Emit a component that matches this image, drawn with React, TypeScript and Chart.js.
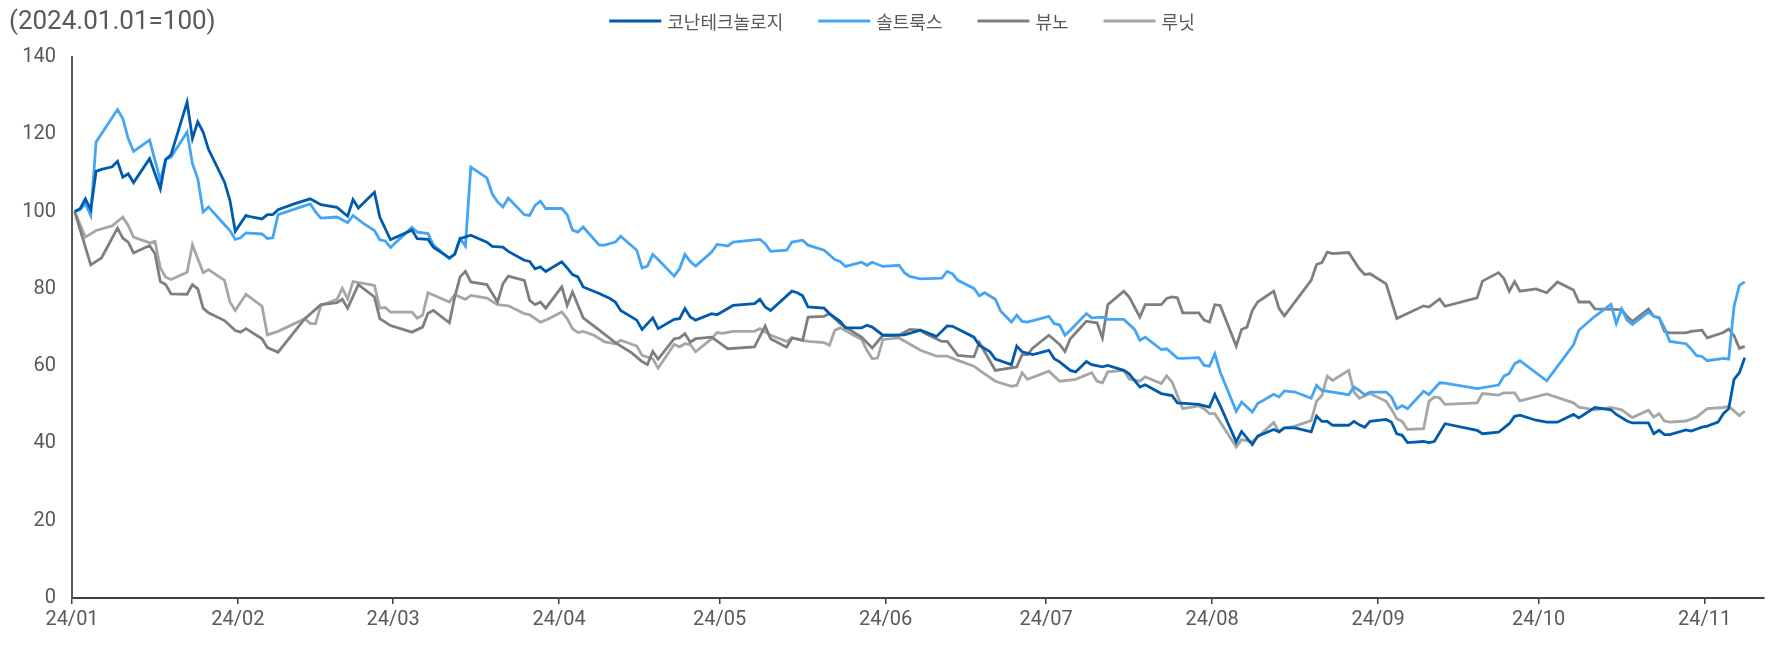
import React, { useEffect, useRef } from 'react';
import { Chart, registerables } from 'chart.js';

Chart.register(...registerables);

const W = 1784;
const H = 656;

const Y_TITLE = '(2024.01.01=100)';
const SERIES_NAMES = ['코난테크놀로지', '솔트룩스', '뷰노', '루닛'];
const SERIES_COLORS = ['#005BAC', '#45A5F5', '#7F7F7F', '#A6A6A6'];
const TEXT_COLOR = '#595959';

// x axis: days since 2024-01-01
const MONTH_TICKS = [0, 31, 60, 91, 121, 152, 182, 213, 244, 274, 305];
const MONTH_LABELS = ['24/01', '24/02', '24/03', '24/04', '24/05', '24/06', '24/07', '24/08', '24/09', '24/10', '24/11'];
const X_MAX = 316;
const Y_MIN = 0;
const Y_MAX = 140;
const Y_STEP = 20;

// 코난테크놀로지
const konanDays = [
  0, 1, 2, 3, 4, 5, 7, 8, 9, 10,
  11, 14, 16, 17, 18, 21, 22, 23, 24, 25,
  28, 29, 30, 32, 33, 35, 36, 37, 38, 41,
  44, 46, 49, 51, 52, 53, 56, 57, 59, 63,
  64, 66, 67, 70, 71, 72, 74, 77, 78, 80,
  81, 84, 85, 86, 87, 88, 91, 92, 93, 94,
  95, 98, 100, 101, 102, 105, 106, 108, 109, 112,
  113, 114, 115, 116, 119, 120, 123, 127, 128, 129,
  130, 134, 135, 136, 137, 140, 141, 143, 144, 147,
  148, 149, 151, 152, 155, 158, 161, 163, 164, 168,
  169, 171, 172, 175, 176, 177, 179, 182, 183, 184,
  186, 187, 189, 190, 192, 193, 196, 197, 199, 200,
  203, 205, 206, 210, 212, 213, 214, 217, 218, 220,
  221, 224, 225, 226, 228, 231, 232, 233, 234, 235,
  238, 239, 240, 241, 242, 245, 246, 247, 248, 249,
  252, 253, 254, 256, 262, 263, 266, 268, 269, 270,
  273, 275, 277, 280, 281, 284, 287, 288, 290, 291,
  294, 295, 296, 297, 298, 301, 302, 304, 305, 307,
  308, 309, 310, 311, 312,
];
const konanValues = [
  100, 100.7, 103.3, 100.5, 110.4, 110.9, 111.6, 113.0, 108.9, 109.8,
  107.5, 113.7, 105.9, 113.5, 114.7, 128.3, 118.9, 123.2, 120.6, 116.1,
  107.6, 102.9, 94.9, 99.0, 98.6, 98.1, 99.2, 99.2, 100.5, 102.0,
  103.3, 101.8, 101.1, 98.8, 103.1, 100.9, 105.0, 98.6, 92.7, 95.2,
  93.0, 92.8, 90.8, 88.0, 88.9, 93.0, 93.9, 92.1, 91.0, 90.8,
  89.7, 87.4, 87.1, 85.2, 85.7, 84.5, 87.0, 85.4, 83.7, 83.1,
  80.5, 78.8, 77.5, 76.6, 74.4, 71.9, 69.5, 72.5, 69.7, 72.1,
  72.3, 74.9, 72.7, 71.9, 73.6, 73.3, 75.7, 76.2, 77.3, 75.3,
  74.4, 79.4, 79.0, 78.2, 75.3, 75.0, 73.6, 71.6, 69.9, 69.9,
  70.6, 70.1, 68.0, 68.0, 68.1, 69.3, 67.7, 70.4, 70.3, 67.5,
  65.4, 63.7, 61.8, 60.4, 65.2, 63.7, 63.0, 64.1, 61.9, 61.1,
  58.9, 58.5, 61.2, 60.4, 59.8, 60.2, 58.9, 58.0, 54.6, 55.2,
  52.9, 52.4, 50.5, 50.1, 49.4, 52.7, 49.8, 40.4, 43.1, 39.7,
  41.9, 43.6, 43.0, 44.0, 44.0, 43.0, 47.1, 45.7, 45.7, 44.7,
  44.7, 45.7, 44.8, 44.2, 45.7, 46.2, 45.5, 42.5, 42.1, 40.2,
  40.5, 40.2, 40.5, 45.1, 43.4, 42.5, 42.9, 45.1, 47.0, 47.3,
  46.0, 45.5, 45.5, 47.5, 46.6, 49.3, 48.7, 47.5, 45.8, 45.3,
  45.3, 42.5, 43.4, 42.3, 42.3, 43.5, 43.2, 44.2, 44.5, 45.5,
  47.7, 49.0, 56.6, 58.3, 62.2,
];

// 솔트룩스
const saltluxDays = [
  0, 1, 2, 3, 4, 8, 9, 10, 11, 14,
  16, 17, 18, 21, 22, 23, 24, 25, 28, 29,
  30, 31, 32, 35, 36, 37, 38, 44, 45, 46,
  49, 51, 52, 54, 56, 57, 58, 59, 63, 64,
  66, 67, 70, 71, 72, 73, 74, 77, 78, 79,
  80, 81, 84, 85, 86, 87, 88, 91, 92, 93,
  94, 95, 98, 99, 101, 102, 105, 106, 107, 108,
  109, 112, 113, 114, 115, 116, 119, 120, 121, 122,
  123, 128, 129, 130, 133, 134, 136, 137, 140, 142,
  143, 144, 147, 148, 149, 151, 154, 155, 156, 158,
  162, 163, 164, 165, 168, 169, 170, 172, 173, 175,
  176, 177, 178, 182, 183, 184, 185, 186, 189, 190,
  192, 193, 196, 198, 199, 200, 203, 204, 206, 207,
  210, 211, 212, 213, 214, 217, 218, 220, 221, 224,
  225, 226, 228, 231, 232, 233, 238, 239, 240, 241,
  242, 245, 246, 247, 248, 249, 252, 253, 255, 256,
  262, 266, 267, 268, 269, 270, 275, 280, 281, 284,
  287, 288, 289, 290, 291, 294, 295, 296, 297, 298,
  301, 302, 303, 304, 305, 308, 309, 310, 311, 312,
];
const saltluxValues = [
  100, 100.5, 102.0, 99.0, 118.0, 126.4, 124.0, 118.9, 115.6, 118.5,
  108.1, 113.5, 114.1, 120.6, 112.4, 108.5, 99.9, 101.2, 96.6, 95.1,
  92.8, 93.2, 94.5, 94.2, 93.0, 93.2, 99.2, 102.0, 99.9, 98.3,
  98.6, 97.1, 99.0, 96.9, 95.1, 92.7, 92.4, 90.7, 95.9, 94.7,
  94.3, 91.4, 87.8, 89.1, 93.0, 91.1, 111.5, 108.7, 104.6, 102.5,
  101.2, 103.5, 99.2, 99.0, 101.6, 102.7, 100.8, 100.8, 99.2, 95.2,
  94.7, 96.0, 91.3, 91.3, 92.1, 93.6, 90.0, 85.4, 85.9, 88.9,
  87.6, 83.3, 85.2, 88.9, 87.1, 85.9, 89.5, 91.5, 91.3, 91.1,
  92.1, 92.8, 91.7, 89.7, 90.0, 92.1, 92.6, 91.3, 90.0, 87.6,
  87.1, 85.8, 86.9, 86.1, 86.9, 85.8, 86.1, 84.2, 83.2, 82.6,
  82.8, 84.5, 83.9, 82.2, 80.1, 78.2, 79.0, 77.3, 74.2, 71.4,
  73.2, 71.6, 71.4, 72.9, 71.0, 70.7, 68.0, 69.3, 73.6, 72.5,
  72.7, 72.1, 72.1, 69.5, 66.7, 67.5, 64.3, 64.5, 62.1, 62.0,
  62.2, 60.2, 60.0, 63.2, 58.5, 48.3, 50.7, 48.1, 50.3, 52.7,
  52.0, 53.6, 53.3, 51.7, 55.0, 53.7, 52.6, 54.6, 53.7, 52.6,
  53.3, 53.3, 52.0, 49.0, 49.8, 49.0, 53.5, 52.6, 55.7, 55.6,
  54.2, 55.1, 57.4, 58.1, 60.6, 61.4, 56.2, 65.5, 69.3, 72.9,
  76.0, 71.0, 74.8, 71.9, 70.8, 74.0, 72.9, 72.6, 69.9, 66.4,
  65.8, 64.4, 62.7, 62.5, 61.4, 62.0, 61.8, 75.5, 80.9, 81.8,
];

// 뷰노
const vunoDays = [
  0, 3, 5, 8, 9, 10, 11, 14, 15, 16,
  17, 18, 21, 22, 23, 24, 25, 28, 30, 31,
  32, 35, 36, 38, 43, 46, 49, 50, 51, 53,
  56, 57, 59, 63, 65, 66, 67, 70, 71, 72,
  73, 74, 77, 79, 80, 81, 84, 85, 86, 87,
  88, 91, 92, 93, 95, 98, 101, 104, 106, 107,
  108, 109, 112, 113, 114, 115, 116, 119, 122, 127,
  129, 130, 133, 134, 136, 137, 140, 141, 143, 147,
  149, 151, 154, 156, 158, 159, 162, 163, 165, 168,
  169, 172, 176, 177, 178, 179, 182, 184, 185, 186,
  189, 190, 191, 192, 193, 196, 197, 199, 200, 203,
  204, 205, 206, 207, 210, 211, 212, 213, 214, 217,
  218, 219, 220, 221, 224, 225, 226, 231, 232, 233,
  234, 235, 238, 240, 241, 242, 245, 247, 252, 253,
  255, 256, 262, 263, 266, 267, 268, 269, 270, 273,
  275, 277, 280, 281, 283, 284, 289, 290, 291, 294,
  295, 296, 297, 298, 301, 302, 304, 305, 308, 309,
  310, 311, 312,
];
const vunoValues = [
  100, 86.2, 88.0, 95.7, 93.1, 92.1, 89.3, 91.2, 89.1, 81.9,
  81.1, 78.7, 78.6, 81.1, 80.0, 75.0, 73.8, 71.8, 69.2, 68.8,
  69.7, 67.1, 64.8, 63.6, 72.3, 75.9, 76.4, 77.3, 75.0, 81.1,
  77.9, 72.3, 70.5, 68.8, 70.1, 73.7, 74.4, 71.2, 77.9, 83.1,
  84.5, 81.8, 81.1, 76.6, 81.3, 83.3, 82.2, 77.0, 75.9, 76.6,
  75.0, 80.5, 75.7, 79.2, 72.5, 69.3, 66.1, 63.5, 61.2, 60.4,
  63.8, 61.8, 67.1, 67.3, 68.4, 66.2, 67.1, 67.5, 64.5, 65.0,
  70.4, 67.1, 64.9, 67.3, 66.7, 72.7, 72.9, 73.6, 71.0, 67.5,
  64.7, 68.0, 68.0, 69.5, 69.3, 68.4, 66.4, 66.4, 62.8, 62.4,
  66.1, 58.9, 59.8, 63.0, 63.0, 64.7, 68.0, 65.6, 63.8, 67.1,
  71.6, 71.4, 71.2, 67.3, 75.9, 79.4, 77.9, 72.7, 75.9, 75.9,
  77.5, 77.9, 77.7, 73.8, 73.8, 71.9, 71.4, 75.9, 75.7, 65.2,
  69.5, 70.1, 74.4, 76.6, 79.4, 74.9, 73.0, 82.2, 86.3, 86.8,
  89.5, 89.1, 89.4, 85.2, 83.7, 83.9, 81.3, 72.3, 75.6, 75.3,
  77.4, 75.5, 77.7, 82.0, 84.2, 82.7, 79.4, 81.9, 79.4, 80.0,
  79.0, 81.8, 79.7, 76.6, 76.6, 74.8, 74.6, 72.9, 71.6, 74.8,
  72.9, 72.5, 69.0, 68.6, 68.6, 69.0, 69.3, 67.3, 68.7, 69.6,
  67.9, 64.6, 65.1,
];

// 루닛
const lunitDays = [
  0, 2, 4, 7, 9, 10, 11, 14, 15, 16,
  17, 18, 21, 22, 23, 24, 25, 28, 29, 30,
  32, 35, 36, 38, 43, 44, 45, 46, 49, 50,
  51, 52, 56, 57, 58, 59, 63, 64, 65, 66,
  70, 71, 73, 74, 77, 79, 81, 84, 85, 87,
  88, 91, 92, 93, 94, 95, 97, 99, 101, 102,
  105, 106, 108, 109, 112, 113, 114, 115, 116, 119,
  120, 121, 123, 127, 128, 130, 133, 134, 137, 140,
  141, 142, 143, 147, 148, 149, 150, 151, 154, 158,
  161, 163, 165, 168, 170, 172, 175, 176, 177, 178,
  182, 184, 187, 190, 191, 192, 193, 196, 197, 199,
  200, 203, 204, 205, 207, 210, 211, 212, 213, 217,
  218, 220, 224, 225, 226, 228, 231, 232, 233, 234,
  235, 238, 239, 240, 242, 245, 246, 247, 248, 249,
  252, 253, 254, 255, 256, 262, 263, 266, 267, 269,
  270, 275, 280, 281, 284, 287, 289, 291, 294, 295,
  296, 297, 298, 301, 303, 305, 308, 309, 311, 312,
];
const lunitValues = [
  100, 93.4, 95.1, 96.3, 98.6, 96.4, 93.4, 91.9, 92.3, 85.4,
  83.0, 82.4, 84.3, 91.4, 87.8, 84.2, 85.0, 82.2, 76.6, 74.4,
  78.6, 75.5, 68.1, 69.0, 72.3, 71.0, 71.0, 75.7, 77.3, 80.2,
  77.4, 81.9, 80.9, 75.0, 75.2, 74.0, 74.0, 72.4, 73.2, 79.0,
  76.6, 78.5, 77.3, 78.3, 77.6, 75.9, 75.6, 73.6, 73.3, 71.4,
  71.9, 74.0, 72.3, 69.7, 68.7, 69.0, 68.0, 66.3, 65.8, 66.7,
  65.2, 62.8, 61.9, 59.5, 65.6, 65.0, 65.8, 65.6, 63.7, 67.1,
  68.7, 68.5, 69.0, 69.0, 69.7, 68.0, 66.4, 67.3, 66.4, 66.1,
  65.4, 69.3, 69.9, 66.9, 64.1, 61.9, 62.1, 66.9, 67.3, 64.1,
  62.6, 62.6, 61.5, 60.0, 58.0, 56.1, 54.8, 55.0, 58.3, 56.6,
  58.7, 56.1, 56.6, 58.3, 56.1, 55.7, 58.5, 58.9, 56.7, 56.1,
  57.2, 55.5, 57.5, 55.9, 49.0, 49.7, 49.0, 47.7, 47.7, 39.1,
  41.0, 40.4, 45.4, 43.0, 44.0, 44.5, 45.9, 50.9, 52.4, 57.4,
  56.3, 58.9, 53.3, 51.7, 52.9, 50.9, 48.8, 46.4, 45.7, 43.6,
  43.8, 50.9, 52.0, 51.8, 50.1, 50.5, 52.9, 52.5, 53.1, 53.1,
  51.0, 52.8, 50.5, 49.4, 48.7, 49.3, 48.7, 46.7, 48.6, 46.8,
  47.7, 45.8, 45.5, 45.8, 46.8, 49.0, 49.3, 49.6, 47.2, 48.4,
];

const SERIES_DAYS = [konanDays, saltluxDays, vunoDays, lunitDays];
const SERIES_VALUES = [konanValues, saltluxValues, vunoValues, lunitValues];

function toPoints(days: number[], values: number[]) {
  const n = Math.min(days.length, values.length);
  const pts: { x: number; y: number }[] = [];
  for (let i = 0; i < n; i++) pts.push({ x: days[i] + 0.5, y: values[i] });
  return pts;
}

const headerPlugin = {
  id: 'headerPlugin',
  afterDraw(chart: any) {
    const ctx = chart.ctx as CanvasRenderingContext2D;
    ctx.save();
    ctx.fillStyle = TEXT_COLOR;
    ctx.textBaseline = 'middle';
    ctx.textAlign = 'left';
    ctx.font = '26px Roboto';
    ctx.fillText(Y_TITLE, 9, 22);

    ctx.font = '18px "Noto Sans CJK KR"';
    const lineLen = 52;
    const gapText = 6;
    const gapItem = 35;
    const widths = SERIES_NAMES.map((n) => ctx.measureText(n).width);
    const total =
      widths.reduce((a, w) => a + lineLen + gapText + w, 0) + gapItem * (SERIES_NAMES.length - 1);
    let x = 902 - total / 2;
    const y = 21;
    SERIES_NAMES.forEach((name, i) => {
      ctx.strokeStyle = SERIES_COLORS[i];
      ctx.lineWidth = 3;
      ctx.beginPath();
      ctx.moveTo(x, y);
      ctx.lineTo(x + lineLen, y);
      ctx.stroke();
      x += lineLen + gapText;
      ctx.fillText(name, x, y + 1);
      x += widths[i] + gapItem;
    });
    ctx.restore();
  },
};

export default function App() {
  const canvasRef = useRef<HTMLCanvasElement | null>(null);

  useEffect(() => {
    const canvas = canvasRef.current;
    if (!canvas) return;
    const datasets = SERIES_NAMES.map((name, i) => ({
      label: name,
      data: toPoints(SERIES_DAYS[i], SERIES_VALUES[i]),
      borderColor: SERIES_COLORS[i],
      backgroundColor: SERIES_COLORS[i],
      borderWidth: 2.8,
      pointRadius: 0,
      tension: 0,
      fill: false,
    }));
    const chart = new Chart(canvas, {
      type: 'line',
      data: { datasets },
      options: {
        animation: false,
        responsive: false,
        maintainAspectRatio: false,
        layout: { padding: { top: 57, right: 20.5, bottom: 0, left: 0 } },
        plugins: {
          legend: { display: false },
          title: { display: false },
          tooltip: { enabled: false },
        },
        scales: {
          x: {
            type: 'linear',
            min: 0,
            max: X_MAX,
            afterBuildTicks: (scale: any) => {
              scale.ticks = MONTH_TICKS.map((v) => ({ value: v }));
            },
            afterFit: (scale: any) => {
              scale.height = 58;
            },
            ticks: {
              autoSkip: false,
              maxRotation: 0,
              minRotation: 0,
              padding: 4,
              color: TEXT_COLOR,
              font: { family: 'Roboto', size: 20 },
              callback: (v: any) => {
                const i = MONTH_TICKS.indexOf(Number(v));
                return i >= 0 ? MONTH_LABELS[i] : '';
              },
            },
            grid: {
              display: true,
              drawOnChartArea: false,
              drawTicks: true,
              tickLength: 6,
              color: '#404040',
              lineWidth: 1.5,
            },
            border: { display: true, color: '#404040', width: 2 },
          },
          y: {
            type: 'linear',
            min: Y_MIN,
            max: Y_MAX,
            afterFit: (scale: any) => {
              scale.width = 72;
            },
            ticks: {
              stepSize: Y_STEP,
              padding: 16,
              color: TEXT_COLOR,
              font: { family: 'Roboto', size: 20 },
            },
            grid: { display: false, drawTicks: false },
            border: { display: true, color: '#595959', width: 2 },
          },
        },
      },
      plugins: [headerPlugin],
    } as any);
    return () => {
      chart.destroy();
    };
  }, []);

  return (
    <div style={{ position: 'absolute', left: 0, top: 0, width: W, height: H, background: '#fff' }}>
      <canvas ref={canvasRef} width={W} height={H} style={{ display: 'block', width: W, height: H }} />
    </div>
  );
}
